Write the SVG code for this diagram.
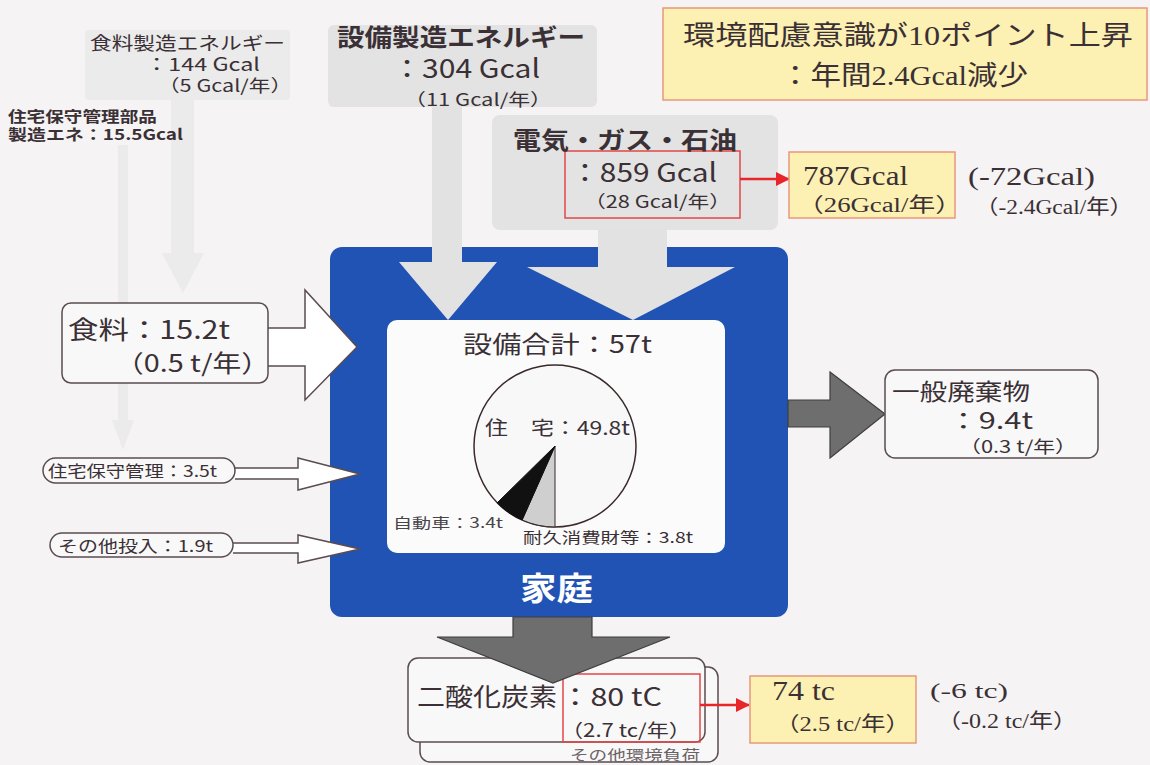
<svg xmlns="http://www.w3.org/2000/svg" width="1150" height="765" viewBox="0 0 1150 765">
<defs>
<style>
.t{font-family:'Noto Sans CJK JP','Noto Sans',sans-serif;fill:#3a3035;}
.b{font-weight:700;}
.s{font-family:'Liberation Serif','Noto Sans CJK JP',serif;fill:#3a3035;}
.gbox{fill:#e3e3e3;}
.ybox{fill:#fcf0b2;stroke:#e8987a;stroke-width:1.5;}
.rbox{fill:none;stroke:#e2474a;stroke-width:1.5;}
.wbox{fill:#f9f8f8;stroke:#5a4c50;stroke-width:1.5;}
.warrow{fill:#ffffff;stroke:#5a4c50;stroke-width:1.5;stroke-linejoin:miter;}
.darrow{fill:#6e6e6e;stroke:#3e3e3e;stroke-width:1.2;}
.garrow{fill:#e2e2e2;}
.faint{fill:#ebebeb;}
.red{stroke:#e8262a;stroke-width:2.5;fill:none;}
</style>
<marker id="rh" markerWidth="14" markerHeight="14" refX="13" refY="7" orient="auto" markerUnits="userSpaceOnUse" viewBox="0 0 14 14">
<path d="M0,0 L14,7 L0,14 Z" fill="#e8262a"/>
</marker>
</defs>
<rect x="0" y="0" width="1150" height="765" fill="#f5f3f4"/>

<g id="food-energy-box">
<rect x="85" y="30" width="205" height="70" rx="4" fill="#ebebeb"/>
</g>

<g id="equip-energy">
<rect x="328" y="25" width="269" height="82" rx="6" class="gbox"/>
<text class="t b" x="337" y="46" font-size="24" textLength="248" lengthAdjust="spacingAndGlyphs">設備製造エネルギー</text>
<text class="t" x="392" y="78" font-size="26" textLength="148" lengthAdjust="spacingAndGlyphs">：304 Gcal</text>
<text class="t" x="404" y="106" font-size="17" textLength="148" lengthAdjust="spacingAndGlyphs">（11 Gcal/年）</text>
</g>

<g id="utility-energy">
<rect x="492" y="115" width="286" height="115" rx="8" class="gbox"/>
<rect x="565" y="151" width="175" height="67" class="rbox"/>
<text class="t b" x="513" y="149" font-size="24" textLength="224" lengthAdjust="spacingAndGlyphs">電気・ガス・石油</text>
<text class="t" x="570" y="182" font-size="26" textLength="147" lengthAdjust="spacingAndGlyphs">：859 Gcal</text>
<text class="t" x="584" y="208" font-size="17" textLength="147" lengthAdjust="spacingAndGlyphs">（28 Gcal/年）</text>
</g>

<g id="household">
<rect x="330" y="247" width="458" height="370" rx="12" fill="#2153b5"/>
<rect x="387" y="320" width="338" height="233" rx="10" fill="#fbfbfb"/>
<text class="t" x="463" y="353" font-size="24" textLength="189" lengthAdjust="spacingAndGlyphs">設備合計：57t</text>
<circle cx="555" cy="446" r="81" fill="#f8f8f8" stroke="#3a2a2a" stroke-width="1.5"/>
<path d="M555,446 L555,527 A81,81 0 0,1 522.1,520 Z" fill="#cfcfcf" stroke="#3a2a2a" stroke-width="1"/>
<path d="M555,446 L522.1,520 A81,81 0 0,1 497.2,502.8 Z" fill="#111111" stroke="#111111" stroke-width="1"/>
<text class="t" x="485" y="435" font-size="19" textLength="145" lengthAdjust="spacingAndGlyphs">住　宅：49.8t</text>
<text class="t" x="393" y="528" font-size="14" style="fill:#4a4448" textLength="110" lengthAdjust="spacingAndGlyphs">自動車：3.4t</text>
<text class="t" x="523" y="543" font-size="15" textLength="170" lengthAdjust="spacingAndGlyphs">耐久消費財等：3.8t</text>
<text class="t b" x="520" y="600" font-size="32" style="fill:#ffffff" textLength="73" lengthAdjust="spacingAndGlyphs">家庭</text>
</g>

<g id="co2">
<rect x="420" y="667" width="298" height="95" rx="10" class="wbox"/>
<text class="t" x="570" y="760" font-size="14" style="fill:#6a6266" textLength="130" lengthAdjust="spacingAndGlyphs">その他環境負荷</text>
<rect x="408" y="658" width="297" height="84" rx="10" class="wbox"/>
<rect x="563" y="674" width="137" height="68" class="rbox"/>
<text class="t" x="417" y="706" font-size="25" textLength="140" lengthAdjust="spacingAndGlyphs">二酸化炭素</text>
<text class="t" x="560" y="706" font-size="25" textLength="102" lengthAdjust="spacingAndGlyphs">：80 tC</text>
<text class="t" x="561" y="737" font-size="18" textLength="130" lengthAdjust="spacingAndGlyphs">（2.7 tc/年）</text>
</g>

<g id="connectors">
<path class="faint" d="M171,100 H194 V253 H204 L183,293 L162,253 H171 Z"/>
<path class="faint" d="M118,145 H128 V420 H134 L123,450 L112,420 H118 Z"/>
<path class="garrow" d="M432,107 H462 V262 H497 L448,320 L399,262 H432 Z"/>
<path class="garrow" d="M598,230 H667 V267 H735 L633,320 L527,267 H598 Z"/>
<path class="warrow" d="M268,328 H305 V290 L357,347 L305,400 V366 H268"/>
<path class="warrow" d="M235,468 H298 V458 L360,474 L298,490 V479 H235"/>
<path class="warrow" d="M233,543 H298 V535 L360,549 L298,563 V553 H233"/>
<path class="darrow" d="M788,400 H830 V372 L885,414 L830,458 V427 H788 Z"/>
<path class="darrow" d="M513,617 H592 V637 H670 L553,683 L437,637 H513 Z"/>
<line class="red" x1="740" y1="179" x2="789" y2="179" marker-end="url(#rh)"/>
<line class="red" x1="700" y1="705" x2="749" y2="705" marker-end="url(#rh)"/>
</g>

<g id="food-energy">
<text class="t" x="90" y="50" font-size="18" textLength="195" lengthAdjust="spacingAndGlyphs">食料製造エネルギー</text>
<text class="t" x="145" y="71" font-size="18" textLength="115" lengthAdjust="spacingAndGlyphs">：144 Gcal</text>
<text class="t" x="158" y="92" font-size="17" textLength="134" lengthAdjust="spacingAndGlyphs">（5 Gcal/年）</text>
</g>

<g id="house-parts-energy">
<text class="t b" x="8" y="122" font-size="15" textLength="149" lengthAdjust="spacingAndGlyphs">住宅保守管理部品</text>
<text class="t b" x="8" y="140" font-size="15" textLength="175" lengthAdjust="spacingAndGlyphs">製造エネ：15.5Gcal</text>
</g>

<g id="title">
<rect x="663" y="8" width="484" height="92" class="ybox"/>
<text class="t" x="683" y="45" font-size="27" textLength="450" lengthAdjust="spacingAndGlyphs">環境配慮意識が<tspan class="s">10</tspan>ポイント上昇</text>
<text class="t" x="780" y="85" font-size="27" textLength="248" lengthAdjust="spacingAndGlyphs">：年間<tspan class="s">2.4Gcal</tspan>減少</text>
</g>

<g id="utility-reduced">
<rect x="789" y="152" width="166" height="66" class="ybox"/>
<text class="s" x="803" y="185" font-size="27" textLength="105" lengthAdjust="spacingAndGlyphs">787Gcal</text>
<text class="s" x="797" y="212" font-size="20" textLength="165" lengthAdjust="spacingAndGlyphs">（26Gcal/年）</text>
<text class="s" x="968" y="185" font-size="25" textLength="127" lengthAdjust="spacingAndGlyphs">(-72Gcal)</text>
<text class="s" x="975" y="214" font-size="20" textLength="158" lengthAdjust="spacingAndGlyphs">（-2.4Gcal/年）</text>
</g>

<g id="food">
<rect x="62" y="303" width="206" height="80" rx="9" class="wbox"/>
<text class="t" x="68" y="339" font-size="25" textLength="162" lengthAdjust="spacingAndGlyphs">食料：15.2t</text>
<text class="t" x="115" y="372" font-size="24" textLength="155" lengthAdjust="spacingAndGlyphs">（0.5 t/年）</text>
</g>

<g id="house-maint">
<rect x="43" y="458" width="192" height="25" rx="12.5" class="wbox"/>
<text class="t" x="48" y="477" font-size="16" textLength="169" lengthAdjust="spacingAndGlyphs">住宅保守管理：3.5t</text>
</g>

<g id="other-input">
<rect x="50" y="533" width="183" height="24" rx="12" class="wbox"/>
<text class="t" x="58" y="552" font-size="16" textLength="155" lengthAdjust="spacingAndGlyphs">その他投入：1.9t</text>
</g>

<g id="waste">
<rect x="885" y="370" width="213" height="88" rx="10" class="wbox"/>
<text class="t" x="892" y="400" font-size="23" textLength="138" lengthAdjust="spacingAndGlyphs">一般廃棄物</text>
<text class="t" x="948" y="429" font-size="23" textLength="85" lengthAdjust="spacingAndGlyphs">：9.4t</text>
<text class="t" x="959" y="453" font-size="17" textLength="118" lengthAdjust="spacingAndGlyphs">（0.3 t/年）</text>
</g>

<g id="co2-reduced">
<rect x="750" y="676" width="166" height="67" class="ybox"/>
<text class="s" x="772" y="700" font-size="27" textLength="63" lengthAdjust="spacingAndGlyphs">74 tc</text>
<text class="s" x="775" y="731" font-size="20" textLength="135" lengthAdjust="spacingAndGlyphs">（2.5 tc/年）</text>
<text class="s" x="930" y="698" font-size="22" textLength="78" lengthAdjust="spacingAndGlyphs">(-6 tc)</text>
<text class="s" x="937" y="728" font-size="20" textLength="140" lengthAdjust="spacingAndGlyphs">（-0.2 tc/年）</text>
</g>
</svg>
